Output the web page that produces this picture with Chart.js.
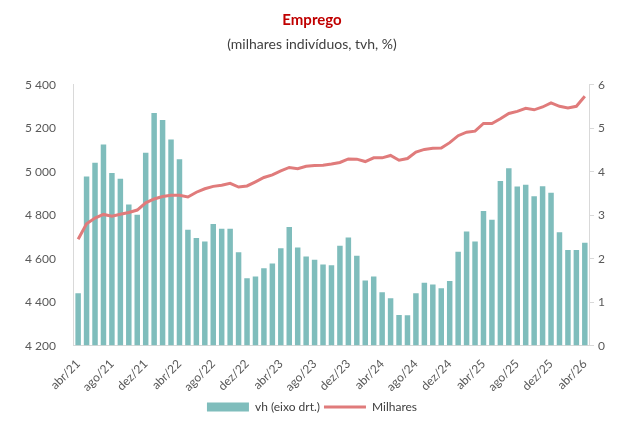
<!DOCTYPE html>
<html>
<head>
<meta charset="utf-8">
<script src="https://cdn.jsdelivr.net/npm/chart.js@4/dist/chart.umd.min.js"></script>
<style>
  html, body { margin:0; padding:0; background:#fff; }
  #wrap { width:625px; height:423px; }
</style>
</head>
<body>
<div id="wrap"><canvas id="chart"></canvas></div>
<script>
// Months abr/21 .. abr/26
const labels = [
  'abr/21','mai/21','jun/21','jul/21','ago/21','set/21','out/21','nov/21','dez/21',
  'jan/22','fev/22','mar/22','abr/22','mai/22','jun/22','jul/22','ago/22','set/22','out/22','nov/22','dez/22',
  'jan/23','fev/23','mar/23','abr/23','mai/23','jun/23','jul/23','ago/23','set/23','out/23','nov/23','dez/23',
  'jan/24','fev/24','mar/24','abr/24','mai/24','jun/24','jul/24','ago/24','set/24','out/24','nov/24','dez/24',
  'jan/25','fev/25','mar/25','abr/25','mai/25','jun/25','jul/25','ago/25','set/25','out/25','nov/25','dez/25',
  'jan/26','fev/26','mar/26','abr/26'
];

// vh (%), right axis
const vh = [
  1.21, 3.89, 4.21, 4.63, 3.97, 3.84, 3.25, 3.01, 4.44, 5.35,
  5.19, 4.74, 4.29, 2.67, 2.48, 2.40, 2.80, 2.69, 2.69, 2.15,
  1.55, 1.59, 1.78, 1.89, 2.24, 2.73, 2.26, 2.05, 1.98, 1.87,
  1.85, 2.30, 2.49, 2.07, 1.50, 1.59, 1.23, 1.09, 0.71, 0.70,
  1.21, 1.45, 1.41, 1.32, 1.49, 2.16, 2.63, 2.40, 3.10, 2.90,
  3.79, 4.08, 3.66, 3.70, 3.44, 3.67, 3.52, 2.61, 2.20, 2.20, 2.37
];

// Milhares de indivíduos, left axis
const milhares = [
  4690, 4761, 4787, 4804, 4796, 4805, 4813, 4824, 4857, 4875,
  4886, 4892, 4892, 4884, 4906, 4922, 4933, 4938, 4947, 4930,
  4935, 4954, 4974, 4986, 5004, 5020, 5014, 5025, 5029, 5030,
  5036, 5043, 5059, 5058, 5047, 5064, 5064, 5075, 5053, 5061,
  5091, 5103, 5108, 5109, 5134, 5166, 5182, 5187, 5222, 5222,
  5244, 5268, 5278, 5292, 5285, 5298, 5317, 5301, 5294, 5301, 5347
];

const leftTicks = { min: 4200, max: 5400, step: 200 };
const rightTicks = { min: 0, max: 6, step: 1 };

const BAR_COL = '#7fbdbc';
const LINE_COL = '#e07b7b';
const TXT = '#595959';
const AXIS = '#d9d9d9';
const FONT = 'Lato, "Open Sans", sans-serif';

function thousands(v) {
  return String(v).replace(/\B(?=(\d{3})+(?!\d))/g, ' ');
}

const ctx = document.getElementById('chart').getContext('2d');
new Chart(ctx, {
  data: {
    labels: labels,
    datasets: [
      {
        type: 'bar', label: 'vh (eixo drt.)', data: vh, yAxisID: 'y1',
        backgroundColor: BAR_COL, borderWidth: 0,
        barPercentage: 0.65, categoryPercentage: 1, order: 2
      },
      {
        type: 'line', label: 'Milhares', data: milhares, yAxisID: 'y',
        borderColor: LINE_COL, borderWidth: 3, pointRadius: 0, tension: 0,
        fill: false, order: 1
      }
    ]
  },
  options: {
    responsive: true,
    maintainAspectRatio: false,
    animation: false,
    layout: { padding: { left: 15, right: 16, top: 0, bottom: 0 } },
    plugins: {
      title: {
        display: true, text: 'Emprego', color: '#c00000',
        font: { family: FONT, size: 15, weight: 'bold' },
        padding: { top: 11, bottom: 7 }
      },
      subtitle: {
        display: true, text: '(milhares indivíduos, tvh, %)', color: '#404040',
        font: { family: FONT, size: 14 },
        padding: { bottom: 32 }
      },
      legend: {
        position: 'bottom',
        labels: {
          color: '#404040',
          font: { family: FONT, size: 12 },
          usePointStyle: true,
          pointStyleWidth: 42,
          boxHeight: 9,
          padding: 4,
          generateLabels: function(chart) {
            return [
              { text: 'vh (eixo drt.)', fillStyle: BAR_COL, strokeStyle: BAR_COL,
                lineWidth: 0, pointStyle: 'rect', datasetIndex: 0, fontColor: '#404040' },
              { text: 'Milhares', fillStyle: LINE_COL, strokeStyle: LINE_COL,
                lineWidth: 3, pointStyle: 'line', datasetIndex: 1, fontColor: '#404040' }
            ];
          }
        }
      },
      tooltip: { enabled: false }
    },
    scales: {
      x: {
        grid: { display: false },
        border: { display: true, color: AXIS },
        ticks: {
          color: TXT, font: { family: FONT, size: 12 },
          autoSkip: false, maxRotation: 45, minRotation: 45,
          callback: function(v, i) { return i % 4 === 0 ? labels[i] : ''; }
        }
      },
      y: {
        position: 'left',
        min: leftTicks.min, max: leftTicks.max,
        grid: { display: false },
        border: { display: true, color: AXIS },
        ticks: {
          stepSize: leftTicks.step, color: TXT, font: { family: FONT, size: 12 },
          padding: 10,
          callback: function(v) { return thousands(v); }
        }
      },
      y1: {
        position: 'right',
        min: rightTicks.min, max: rightTicks.max,
        grid: { drawOnChartArea: false, color: AXIS, tickLength: 5 },
        border: { display: true, color: AXIS },
        ticks: {
          stepSize: rightTicks.step, color: TXT, font: { family: FONT, size: 12 },
          padding: 4
        }
      }
    }
  }
});
</script>
</body>
</html>
